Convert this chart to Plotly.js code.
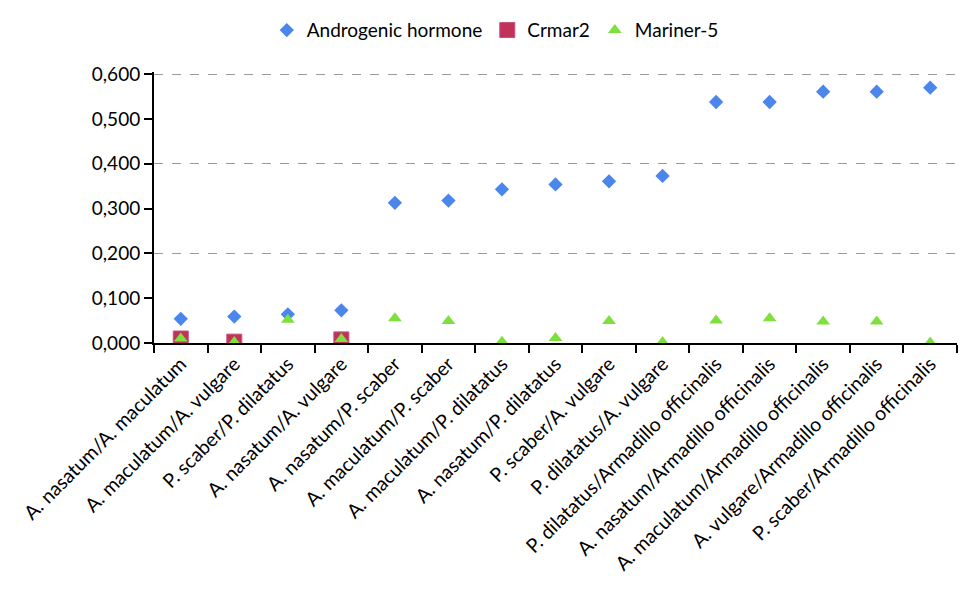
<!DOCTYPE html>
<html>
<head>
<meta charset="utf-8">
<script src="https://cdn.plot.ly/plotly-3.0.1.min.js"></script>
<style>html,body{margin:0;padding:0;background:#fff;}#chart{width:980px;height:595px;}</style>
</head>
<body>
<div id="chart"></div>
<script>
const categories = [
  "A. nasatum/A. maculatum",
  "A. maculatum/A. vulgare",
  "P. scaber/P. dilatatus",
  "A. nasatum/A. vulgare",
  "A. nasatum/P. scaber",
  "A. maculatum/P. scaber",
  "A. maculatum/P. dilatatus",
  "A. nasatum/P. dilatatus",
  "P. scaber/A. vulgare",
  "P. dilatatus/A. vulgare",
  "P. dilatatus/Armadillo officinalis",
  "A. nasatum/Armadillo officinalis",
  "A. maculatum/Armadillo officinalis",
  "A. vulgare/Armadillo officinalis",
  "P. scaber/Armadillo officinalis"
];
const androgenic = [0.054, 0.059, 0.064, 0.073, 0.313, 0.318, 0.343, 0.354, 0.361, 0.373, 0.538, 0.538, 0.561, 0.561, 0.570];
const crmar2Cats = ["A. nasatum/A. maculatum", "A. maculatum/A. vulgare", "A. nasatum/A. vulgare"];
const crmar2 = [0.010, 0.003, 0.008];
const mariner5 = [0.010, 0.002, 0.052, 0.009, 0.055, 0.049, 0.003, 0.011, 0.049, 0.002, 0.050, 0.055, 0.048, 0.048, 0.001];
const yTicks = [0, 0.1, 0.2, 0.3, 0.4, 0.5, 0.6];
const gridTicks = [0.2, 0.4, 0.6];

const font = "Lato, Open Sans, sans-serif";

const traces = [
  {type: "scatter", mode: "markers", x: [categories[0]], y: [null], yaxis: "y2",
   showlegend: false, hoverinfo: "skip"},
  {type: "scatter", mode: "markers", name: "Androgenic hormone", x: categories, y: androgenic,
   marker: {symbol: "diamond", size: 11, color: "#4a86ec"}},
  {type: "scatter", mode: "markers", name: "Crmar2", x: crmar2Cats, y: crmar2,
   marker: {symbol: "square", size: 15, color: "#c0325a", line: {color: "#c8507a", width: 1}}},
  {type: "scatter", mode: "markers", name: "Mariner-5", x: categories, y: mariner5,
   marker: {symbol: "triangle-up", size: 12, color: "#7ee03c"}}
];

const layout = {
  width: 980, height: 595,
  margin: {l: 154, r: 23, t: 71, b: 252},
  paper_bgcolor: "#fff", plot_bgcolor: "#fff",
  separators: ",.",
  font: {family: font, size: 17, color: "#000"},
  showlegend: true,
  legend: {orientation: "h", x: 0.425, xanchor: "center", y: 1.15, yanchor: "middle",
           font: {family: font, size: 19}, itemwidth: 30, tracegroupgap: 0},
  xaxis: {type: "category", categoryorder: "array", categoryarray: categories,
          range: [-0.5, categories.length - 0.5],
          tickson: "boundaries", ticks: "outside", ticklen: 8, tickwidth: 2, tickcolor: "#000",
          showline: true, linecolor: "#000", linewidth: 2, showgrid: false,
          tickangle: -45, tickfont: {family: font, size: 19.5, color: "#000"}},
  yaxis: {range: [0, 0.605], tickvals: yTicks, tickformat: ".3f",
          ticks: "outside", ticklen: 8, tickwidth: 2, tickcolor: "#000",
          showline: true, linecolor: "#000", linewidth: 2, showgrid: false, zeroline: false,
          tickfont: {family: font, size: 19, color: "#000"}},
  yaxis2: {overlaying: "y", range: [0, 0.605], tickvals: gridTicks, showticklabels: false,
           ticks: "", showgrid: true, gridcolor: "#9a9a9a", griddash: "dash", gridwidth: 1,
           zeroline: false, showline: false}
};

Plotly.newPlot("chart", traces, layout, {staticPlot: true});
</script>
</body>
</html>
